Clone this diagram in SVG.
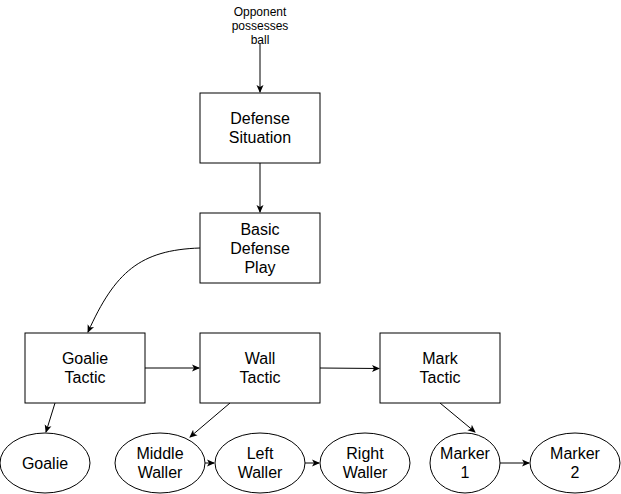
<svg xmlns="http://www.w3.org/2000/svg" width="621" height="494" viewBox="0 0 621 494">
<style>
.n{fill:#fff;stroke:#000;stroke-width:1}
.t{font-family:"Liberation Sans",Arial,sans-serif;font-size:16px;text-anchor:middle;fill:#000}
.s{font-family:"Liberation Sans",Arial,sans-serif;font-size:12px;text-anchor:middle;fill:#000}
.c{fill:none;stroke:#000;stroke-width:1;marker-end:url(#a)}
</style>
<defs>
<marker id="a" markerWidth="10" markerHeight="10" refX="7" refY="5" orient="auto" markerUnits="userSpaceOnUse">
<path d="M0,1.5 L8,5 L0,8.5 L2,5 Z" fill="#000"/>
</marker>
</defs>
<rect width="621" height="494" fill="#fff"/>
<g id="connectors">
<path class="c" d="M260,44 L260,92"/>
<path class="c" d="M260,163 L260,212"/>
<path class="c" d="M200,248 C140,250 115,272 88,332"/>
<path class="c" d="M55,403 L46,432"/>
<path class="c" d="M145,368 L199,368"/>
<path class="c" d="M320,368 L379,368.5"/>
<path class="c" d="M230,403 L190,437"/>
<path class="c" d="M440,403 L475,432"/>
<path class="c" d="M205,463 L214,463"/>
<path class="c" d="M305,463 L319,463"/>
<path class="c" d="M500,463 L529,463"/>
</g>
<g id="label-opponent">
<text class="s" x="260" y="16">Opponent</text>
<text class="s" x="260" y="30">possesses</text>
<text class="s" x="260" y="44">ball</text>
</g>
<g id="defense-situation">
<rect class="n" x="200" y="93" width="120" height="70"/>
<text class="t" x="260" y="124">Defense</text>
<text class="t" x="260" y="143">Situation</text>
</g>
<g id="basic-defense-play">
<rect class="n" x="200" y="213" width="120" height="70"/>
<text class="t" x="260" y="235">Basic</text>
<text class="t" x="260" y="254">Defense</text>
<text class="t" x="260" y="273">Play</text>
</g>
<g id="goalie-tactic">
<rect class="n" x="25" y="333" width="120" height="70"/>
<text class="t" x="85" y="364">Goalie</text>
<text class="t" x="85" y="383">Tactic</text>
</g>
<g id="wall-tactic">
<rect class="n" x="200" y="333" width="120" height="70"/>
<text class="t" x="260" y="364">Wall</text>
<text class="t" x="260" y="383">Tactic</text>
</g>
<g id="mark-tactic">
<rect class="n" x="380" y="333" width="120" height="70"/>
<text class="t" x="440" y="364">Mark</text>
<text class="t" x="440" y="383">Tactic</text>
</g>
<g id="goalie">
<ellipse class="n" cx="45" cy="463" rx="45" ry="30"/>
<text class="t" x="45" y="469">Goalie</text>
</g>
<g id="middle-waller">
<ellipse class="n" cx="160" cy="463" rx="45" ry="30"/>
<text class="t" x="160" y="459">Middle</text>
<text class="t" x="160" y="478">Waller</text>
</g>
<g id="left-waller">
<ellipse class="n" cx="260" cy="463" rx="45" ry="30"/>
<text class="t" x="260" y="459">Left</text>
<text class="t" x="260" y="478">Waller</text>
</g>
<g id="right-waller">
<ellipse class="n" cx="365" cy="463" rx="45" ry="30"/>
<text class="t" x="365" y="459">Right</text>
<text class="t" x="365" y="478">Waller</text>
</g>
<g id="marker-1">
<ellipse class="n" cx="465" cy="463" rx="35" ry="30"/>
<text class="t" x="465" y="459">Marker</text>
<text class="t" x="465" y="478">1</text>
</g>
<g id="marker-2">
<ellipse class="n" cx="575" cy="463" rx="45" ry="30"/>
<text class="t" x="575" y="459">Marker</text>
<text class="t" x="575" y="478">2</text>
</g>
</svg>
